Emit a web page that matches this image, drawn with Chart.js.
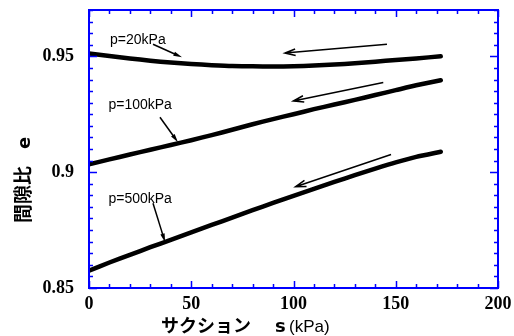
<!DOCTYPE html>
<html>
<head>
<meta charset="utf-8">
<script src="https://cdn.jsdelivr.net/npm/chart.js@4.4.1/dist/chart.umd.min.js"></script>
<style>
html, body { margin: 0; padding: 0; background: #fff; }
</style>
</head>
<body>
<canvas id="myChart" width="514" height="336"></canvas>
<script>
var suction = [0, 10, 20, 30, 40, 50, 60, 70, 80, 90, 100, 110, 120, 130, 140, 150, 160, 172];
var e20  = [0.9512, 0.9501, 0.9491, 0.9481, 0.9473, 0.9467, 0.9462, 0.9458, 0.9457, 0.9456, 0.9457, 0.9460, 0.9465, 0.9470, 0.9477, 0.9484, 0.9491, 0.9500];
var e100 = [0.9034, 0.9055, 0.9076, 0.9097, 0.9117, 0.9138, 0.9160, 0.9183, 0.9207, 0.9229, 0.9250, 0.9272, 0.9292, 0.9312, 0.9333, 0.9354, 0.9375, 0.9397];
var e500 = [0.8575, 0.8610, 0.8643, 0.8676, 0.8708, 0.8740, 0.8772, 0.8804, 0.8836, 0.8867, 0.8898, 0.8928, 0.8958, 0.8987, 0.9015, 0.9042, 0.9066, 0.9088];
var seriesNames = ['p=20kPa', 'p=100kPa', 'p=500kPa'];
var xTicks = [0, 50, 100, 150, 200];
var yTicks = [0.85, 0.9, 0.95];

function toPoints(ys) {
  return ys.map(function (y, i) { return { x: suction[i], y: y }; });
}

function makeSet(name, ys) {
  return {
    label: name,
    data: toPoints(ys),
    showLine: true,
    borderColor: '#000',
    backgroundColor: '#000',
    borderWidth: 4.5,
    borderCapStyle: 'round',
    pointRadius: 0,
    pointHoverRadius: 0,
    tension: 0.2
  };
}

// annotation text and arrows, placed in data units
var notes = [
  { text: seriesNames[0], s: 10.3, e: 0.9571, from: [31.3, 0.9552], to: [45.5, 0.9496] },
  { text: seriesNames[1], s: 9.5,  e: 0.9288, from: [34.7, 0.9237], to: [43.5, 0.9129] },
  { text: seriesNames[2], s: 9.5,  e: 0.8883, from: [31.3, 0.8866], to: [37.2, 0.8698] }
];
var dirArrows = [
  { from: [145.7, 0.9552], to: [95.8, 0.9514] },
  { from: [143.9, 0.9387], to: [99.9, 0.9307] },
  { from: [147.7, 0.9076], to: [101.0, 0.8937] }
];

function openArrow(ctx, x1, y1, x2, y2) {
  var a = Math.atan2(y2 - y1, x2 - x1), len = 11, sp = 0.3;
  ctx.beginPath();
  ctx.moveTo(x1, y1); ctx.lineTo(x2, y2);
  ctx.moveTo(x2 - len * Math.cos(a - sp), y2 - len * Math.sin(a - sp));
  ctx.lineTo(x2, y2);
  ctx.lineTo(x2 - len * Math.cos(a + sp), y2 - len * Math.sin(a + sp));
  ctx.stroke();
}

function solidArrow(ctx, x1, y1, x2, y2) {
  var a = Math.atan2(y2 - y1, x2 - x1), len = 9, sp = 0.25;
  ctx.beginPath();
  ctx.moveTo(x1, y1); ctx.lineTo(x2 - 5 * Math.cos(a), y2 - 5 * Math.sin(a));
  ctx.stroke();
  ctx.beginPath();
  ctx.moveTo(x2, y2);
  ctx.lineTo(x2 - len * Math.cos(a - sp), y2 - len * Math.sin(a - sp));
  ctx.lineTo(x2 - len * Math.cos(a + sp), y2 - len * Math.sin(a + sp));
  ctx.closePath();
  ctx.fill();
}

function noPad(s) {
  s.paddingLeft = 0; s.paddingRight = 0; s.paddingTop = 0; s.paddingBottom = 0;
}

var frame = {
  id: 'frame',
  afterDatasetsDraw: function (chart) {
    var ctx = chart.ctx, area = chart.chartArea;
    var xs = chart.scales.x, ys = chart.scales.y;
    ctx.save();
    ctx.strokeStyle = '#0000ff';
    ctx.lineWidth = 2;
    ctx.strokeRect(area.left, area.top, area.right - area.left, area.bottom - area.top);
    ctx.lineWidth = 1.5;
    ctx.beginPath();
    for (var v = 0; v <= 200; v += 10) {
      var px = Math.round(xs.getPixelForValue(v)) + 0.5;
      var l = v % 50 === 0 ? 7 : 4;
      ctx.moveTo(px, area.bottom); ctx.lineTo(px, area.bottom - l);
      ctx.moveTo(px, area.top); ctx.lineTo(px, area.top + l);
    }
    for (var k = 0; k <= 24; k++) {
      var py = Math.round(ys.getPixelForValue(0.85 + k * 0.005)) + 0.5;
      var m = k % 10 === 0 ? 8 : 4;
      ctx.moveTo(area.left, py); ctx.lineTo(area.left + m, py);
      ctx.moveTo(area.right, py); ctx.lineTo(area.right - m, py);
    }
    ctx.stroke();

    ctx.strokeStyle = '#000';
    ctx.fillStyle = '#000';
    ctx.lineWidth = 1.5;
    dirArrows.forEach(function (a) {
      openArrow(ctx, xs.getPixelForValue(a.from[0]), ys.getPixelForValue(a.from[1]),
        xs.getPixelForValue(a.to[0]), ys.getPixelForValue(a.to[1]));
    });
    ctx.font = '14px "Liberation Sans", Arial, sans-serif';
    ctx.textAlign = 'left';
    ctx.textBaseline = 'middle';
    notes.forEach(function (n) {
      ctx.fillText(n.text, xs.getPixelForValue(n.s), ys.getPixelForValue(n.e));
      solidArrow(ctx, xs.getPixelForValue(n.from[0]), ys.getPixelForValue(n.from[1]),
        xs.getPixelForValue(n.to[0]), ys.getPixelForValue(n.to[1]));
    });

    // axis titles
    ctx.textBaseline = 'alphabetic';
    ctx.font = 'bold 18px "Noto Sans CJK JP", sans-serif';
    ctx.fillText('サクション', 161, 332);
    ctx.font = 'bold 18px "DejaVu Sans", sans-serif';
    ctx.fillText('s', 275, 332);
    ctx.font = '17px "Liberation Sans", Arial, sans-serif';
    ctx.fillText('(kPa)', 289, 332);

    ctx.translate(30, 223);
    ctx.rotate(-Math.PI / 2);
    ctx.font = 'bold 19px "Noto Sans CJK JP", sans-serif';
    ctx.fillText('間隙比', 0, 0);
    ctx.font = 'bold 18px "DejaVu Sans", sans-serif';
    ctx.fillText('e', 74, 0);
    ctx.restore();
  }
};

var ctx = document.getElementById('myChart').getContext('2d');
var myChart = new Chart(ctx, {
  type: 'scatter',
  data: {
    datasets: [makeSet(seriesNames[0], e20), makeSet(seriesNames[1], e100), makeSet(seriesNames[2], e500)]
  },
  options: {
    responsive: false,
    animation: false,
    devicePixelRatio: 1,
    layout: { padding: { top: 10, right: 16, left: 0, bottom: 0 } },
    plugins: { legend: { display: false }, tooltip: { enabled: false } },
    scales: {
      x: {
        type: 'linear', min: 0, max: 200,
        grid: { display: false, drawTicks: false },
        border: { display: false },
        afterBuildTicks: function (s) { s.ticks = xTicks.map(function (v) { return { value: v }; }); },
        afterFit: function (s) { s.height = 48; noPad(s); },
        ticks: {
          padding: 6, color: '#000', maxRotation: 0,
          font: { family: '"Liberation Serif", "Times New Roman", serif', size: 18, weight: 'bold' }
        }
      },
      y: {
        type: 'linear', min: 0.85, max: 0.97,
        grid: { display: false, drawTicks: false },
        border: { display: false },
        afterBuildTicks: function (s) { s.ticks = yTicks.map(function (v) { return { value: v }; }); },
        afterFit: function (s) { s.width = 89; noPad(s); },
        ticks: {
          padding: 15, color: '#000',
          callback: function (v) { return String(v); },
          font: { family: '"Liberation Serif", "Times New Roman", serif', size: 18, weight: 'bold' }
        }
      }
    }
  },
  plugins: [frame]
});
</script>
</body>
</html>
